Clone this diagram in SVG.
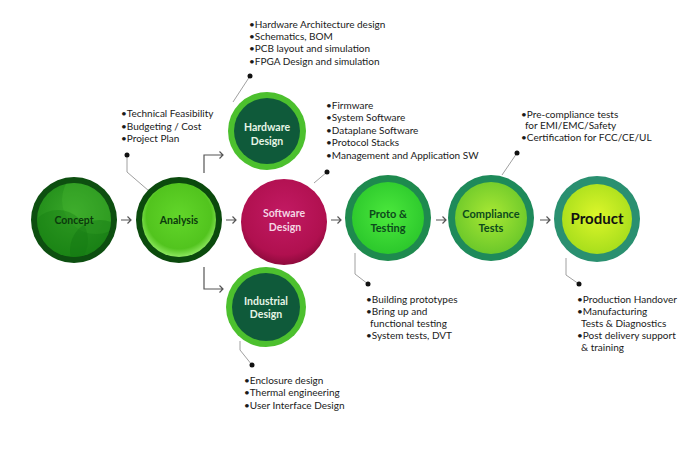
<svg xmlns="http://www.w3.org/2000/svg" width="698" height="450" viewBox="0 0 698 450">
<defs>
<radialGradient id="gConcept" cx="50%" cy="40%" r="60%"><stop offset="0" stop-color="#3aa82a"/><stop offset="1" stop-color="#1f8a18"/></radialGradient>
<radialGradient id="gAnalysis" cx="50%" cy="45%" r="55%"><stop offset="0" stop-color="#62d62a"/><stop offset="0.8" stop-color="#52c41e"/><stop offset="1" stop-color="#8ee860"/></radialGradient>
<radialGradient id="gSoft" cx="50%" cy="40%" r="60%"><stop offset="0" stop-color="#c21a63"/><stop offset="0.8" stop-color="#b0104f"/><stop offset="1" stop-color="#8e0a3c"/></radialGradient>
<radialGradient id="gProto" cx="50%" cy="45%" r="55%"><stop offset="0" stop-color="#4be83c"/><stop offset="1" stop-color="#2cc82c"/></radialGradient>
<radialGradient id="gComp" cx="50%" cy="45%" r="55%"><stop offset="0" stop-color="#a8e834"/><stop offset="1" stop-color="#6cc82a"/></radialGradient>
<radialGradient id="gProd" cx="50%" cy="45%" r="55%"><stop offset="0" stop-color="#dcf62a"/><stop offset="1" stop-color="#a8de1c"/></radialGradient>
<clipPath id="cConcept"><circle cx="74" cy="220" r="37"/></clipPath>
<marker id="ah" viewBox="0 0 8 8" refX="7" refY="4" markerWidth="7" markerHeight="7" markerUnits="userSpaceOnUse" orient="auto"><path d="M1,1 L7,4 L1,7" fill="none" stroke="#555" stroke-width="1.2"/></marker>
</defs>
<style>
.lbl{font-family:Lato,"Open Sans",sans-serif;font-weight:bold;text-anchor:middle}
.lst{font-family:Lato,"Open Sans",sans-serif;font-size:10px;fill:#1a1a1a}
.lead{fill:none;stroke:#a0a0a0;stroke-width:1}
.dot{fill:#111}
.arr{fill:none;stroke:#555;stroke-width:1.2}
</style>
<rect width="698" height="450" fill="#ffffff"/>

<g id="connectors">
<path class="arr" d="M121,220 H131 M127.5,216.5 L131,220 L127.5,223.5"/>
<path class="arr" d="M226,220 H236 M232.5,216.5 L236,220 L232.5,223.5"/>
<path class="arr" d="M331,220 H341 M337.5,216.5 L341,220 L337.5,223.5"/>
<path class="arr" d="M436,220 H446 M442.5,216.5 L446,220 L442.5,223.5"/>
<path class="arr" d="M540,220 H550 M546.5,216.5 L550,220 L546.5,223.5"/>
<path class="arr" d="M204,173 V155 H223 M219.5,151.5 L223,155 L219.5,158.5"/>
<path class="arr" d="M204,267 V289 H223 M219.5,285.5 L223,289 L219.5,292.5"/>
<path class="lead" d="M127,155 V172 L149,191"/>
<circle class="dot" cx="127" cy="155" r="2.5"/>
<path class="lead" d="M250,76 L233,102"/>
<circle class="dot" cx="250" cy="76" r="2.5"/>
<path class="lead" d="M327,172 L314,183"/>
<circle class="dot" cx="327" cy="172" r="2.5"/>
<path class="lead" d="M240,341 V350 L252,365"/>
<circle class="dot" cx="252" cy="365" r="2.5"/>
<path class="lead" d="M355,253 V274 L368,284"/>
<circle class="dot" cx="368" cy="284" r="2.5"/>
<path class="lead" d="M517,153 L502,175"/>
<circle class="dot" cx="517" cy="153" r="2.5"/>
<path class="lead" d="M566,258 V275 L579,284"/>
<circle class="dot" cx="579" cy="284" r="2.5"/>
</g>

<g id="concept">
<circle cx="74" cy="220" r="43" fill="#0d4f10"/>
<circle cx="74" cy="220" r="37" fill="url(#gConcept)"/>
<g clip-path="url(#cConcept)">
<circle cx="96" cy="200" r="34" fill="#48b830" opacity="0.35"/>
<circle cx="58" cy="240" r="30" fill="#137a12" opacity="0.35"/>
<circle cx="100" cy="250" r="30" fill="#0f7010" opacity="0.35"/>
</g>
<text class="lbl" x="74" y="224" font-size="10.5" fill="#0b3a0c">Concept</text>
</g>

<g id="analysis">
<circle cx="179" cy="220" r="43" fill="#0b4a0d"/>
<circle cx="179" cy="220" r="37" fill="url(#gAnalysis)"/>
<text class="lbl" x="179" y="224" font-size="10.5" fill="#0b3a0c">Analysis</text>
</g>

<g id="hardware">
<circle cx="267" cy="131" r="39" fill="#4cc02e"/>
<circle cx="267" cy="131" r="33" fill="#0f5a3a"/>
<text class="lbl" x="267" y="131" font-size="10.5" fill="#e6f5e6">Hardware</text>
<text class="lbl" x="267" y="145" font-size="10.5" fill="#e6f5e6">Design</text>
</g>

<g id="industrial">
<circle cx="266" cy="307" r="40" fill="#4cc02e"/>
<circle cx="266" cy="307" r="34" fill="#0f5a3a"/>
<text class="lbl" x="266" y="305" font-size="10.5" fill="#e6f5e6">Industrial</text>
<text class="lbl" x="266" y="318" font-size="10.5" fill="#e6f5e6">Design</text>
</g>

<g id="software">
<circle cx="284" cy="222" r="43" fill="url(#gSoft)"/>
<text class="lbl" x="284" y="217" font-size="10.5" fill="#f4d6e4">Software</text>
<text class="lbl" x="285" y="231" font-size="10.5" fill="#f4d6e4">Design</text>
</g>

<g id="proto">
<circle cx="388" cy="218" r="43" fill="#1e8a4e"/>
<circle cx="388" cy="218" r="36" fill="url(#gProto)"/>
<text class="lbl" x="388" y="218" font-size="11" fill="#0c4a1c">Proto &amp;</text>
<text class="lbl" x="388" y="232" font-size="11" fill="#0c4a1c">Testing</text>
</g>

<g id="compliance">
<circle cx="491" cy="218" r="43" fill="#1e8a5a"/>
<circle cx="491" cy="218" r="36" fill="url(#gComp)"/>
<text class="lbl" x="491" y="218" font-size="11" fill="#0c4a1c">Compliance</text>
<text class="lbl" x="491" y="232" font-size="11" fill="#0c4a1c">Tests</text>
</g>

<g id="product">
<circle cx="597" cy="219" r="43" fill="#2a9070"/>
<circle cx="597" cy="219" r="35" fill="url(#gProd)"/>
<text class="lbl" x="597" y="224" font-size="15" fill="#111">Product</text>
</g>

<g id="notes">
<text class="lst" x="121" y="117">•Technical Feasibility</text>
<text class="lst" x="121" y="130">•Budgeting / Cost</text>
<text class="lst" x="121" y="142">•Project Plan</text>

<text class="lst" x="249" y="28">•Hardware Architecture design</text>
<text class="lst" x="249" y="40">•Schematics, BOM</text>
<text class="lst" x="249" y="52">•PCB layout  and simulation</text>
<text class="lst" x="249" y="65">•FPGA Design and simulation</text>

<text class="lst" x="326" y="109">•Firmware</text>
<text class="lst" x="326" y="121">•System Software</text>
<text class="lst" x="326" y="134">•Dataplane Software</text>
<text class="lst" x="326" y="146">•Protocol Stacks</text>
<text class="lst" x="326" y="159">•Management and Application SW</text>

<text class="lst" x="521" y="118">•Pre-compliance tests</text>
<text class="lst" x="525" y="129">for EMI/EMC/Safety</text>
<text class="lst" x="521" y="141">•Certification for FCC/CE/UL</text>

<text class="lst" x="366" y="303">•Building prototypes</text>
<text class="lst" x="366" y="315">•Bring up and</text>
<text class="lst" x="370" y="327">functional testing</text>
<text class="lst" x="366" y="339">•System tests, DVT</text>

<text class="lst" x="577" y="303">•Production Handover</text>
<text class="lst" x="577" y="315">•Manufacturing</text>
<text class="lst" x="581" y="327">Tests  &amp; Diagnostics</text>
<text class="lst" x="577" y="339">•Post delivery support</text>
<text class="lst" x="581" y="351">&amp; training</text>

<text class="lst" x="244" y="384">•Enclosure design</text>
<text class="lst" x="244" y="396">•Thermal engineering</text>
<text class="lst" x="244" y="409">•User Interface Design</text>
</g>
</svg>
